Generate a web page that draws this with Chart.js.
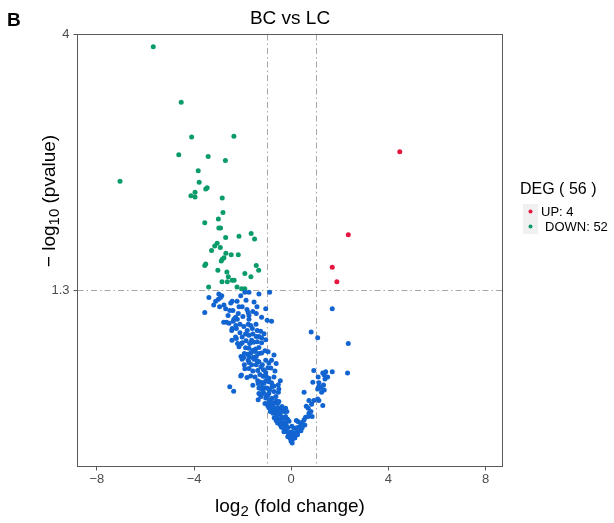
<!DOCTYPE html>
<html>
<head>
<meta charset="utf-8">
<script src="https://cdn.jsdelivr.net/npm/chart.js@4.4.1/dist/chart.umd.min.js"></script>
<style>
html,body{margin:0;padding:0;background:#ffffff;}
#wrap{width:614px;height:523px;position:relative;}
</style>
</head>
<body>
<div id="wrap"><canvas id="c" width="614" height="523"></canvas></div>
<script>
// ---------- data: [log2(fold change), -log10(pvalue)] ----------
const chartTitle = 'BC vs LC';
const panelLetter = 'B';
const legendTitle = 'DEG ( 56 )';
const legendLabels = ['UP: 4', 'DOWN: 52'];
const xTickValues = [-8, -4, 0, 4, 8];
const yTickValues = [1.3, 4];
const foldCutoffs = [-1, 1];
const pCutoff = 1.3;

const upPoints = [
  [4.47, 2.39], [2.35, 1.66], [1.69, 1.44], [1.88, 1.35]
];

const downPoints = [
  [-7.05, 2.10], [-5.68, 3.79], [-4.53, 2.97], [-4.10, 2.55], [-2.36, 2.56],
  [-4.63, 2.36], [-3.42, 2.34], [-2.71, 2.30], [-3.83, 2.20], [-3.79, 2.09],
  [-3.52, 2.03], [-3.46, 2.04], [-4.13, 1.97], [-3.96, 2.00], [-3.96, 1.96],
  [-2.84, 1.95], [-2.81, 1.83], [-3.00, 1.78], [-3.56, 1.75], [-2.98, 1.71],
  [-2.91, 1.71], [-2.70, 1.64], [-2.15, 1.65], [-1.65, 1.67], [-1.51, 1.63],
  [-3.05, 1.60], [-3.15, 1.58], [-2.92, 1.57], [-3.28, 1.55], [-2.69, 1.53],
  [-2.47, 1.52], [-2.18, 1.52], [-2.77, 1.50], [-2.84, 1.49], [-2.88, 1.48],
  [-3.52, 1.46], [-3.56, 1.45], [-1.44, 1.45], [-1.34, 1.42], [-3.02, 1.42],
  [-2.65, 1.41], [-1.91, 1.40], [-1.66, 1.38], [-2.59, 1.38], [-2.35, 1.36],
  [-2.43, 1.36], [-2.85, 1.35], [-2.63, 1.35], [-3.40, 1.32], [-2.04, 1.31],
  [-1.91, 1.31], [-2.23, 1.32]
];

const nsLeftUpper = [
  [-0.89, 1.29], [-3.39, 1.26], [-2.98, 1.28], [-2.86, 1.27], [-2.08, 1.27],
  [-1.91, 1.29], [-1.74, 1.29], [-1.33, 1.28], [-3.00, 1.25], [-2.91, 1.26],
  [-3.11, 1.24], [-3.19, 1.22], [-2.43, 1.24], [-2.49, 1.23], [-2.77, 1.22],
  [-2.95, 1.21], [-2.15, 1.21], [-2.02, 1.21], [-1.41, 1.21], [-2.70, 1.20],
  [-2.53, 1.19], [-1.05, 1.20], [-3.56, 1.18], [-2.18, 1.175], [-1.77, 1.18],
  [-1.74, 1.165], [-1.44, 1.175], [-2.29, 1.155], [-2.22, 1.145], [-2.36, 1.145],
  [-1.22, 1.155], [-1.74, 1.145], [-2.78, 1.13], [-2.66, 1.13], [-2.56, 1.125],
  [-2.39, 1.135], [-0.99, 1.14], [-0.81, 1.135], [-2.11, 1.12], [-1.77, 1.12],
  [-1.67, 1.115], [-2.43, 1.10], [-2.45, 1.09], [-2.26, 1.10], [-1.81, 1.09],
  [-1.60, 1.10], [-1.40, 1.09], [-1.26, 1.087], [-1.88, 1.074], [-1.74, 1.068],
  [-1.58, 1.074], [-2.02, 1.06], [-2.29, 1.06], [-2.26, 1.053], [-1.44, 1.062],
  [-1.33, 1.062], [-1.22, 1.056], [-1.05, 1.047], [-1.63, 1.044], [-1.55, 1.035],
  [-1.71, 1.03], [-1.40, 1.038], [-2.21, 1.03], [-2.08, 1.027], [-2.02, 1.033],
  [-1.22, 1.033], [-1.88, 1.011], [-1.74, 1.008], [-1.47, 1.005], [-1.58, 0.999],
  [-0.95, 0.993], [-1.93, 0.985], [-1.79, 0.982], [-1.67, 0.988], [-1.33, 0.985],
  [-1.22, 0.988], [-0.71, 0.979], [-2.07, 0.973], [-1.96, 0.968], [-1.74, 0.971],
  [-1.58, 0.968], [-1.44, 0.973]
];

const nsLeftBand = [
  [-2.23, 1.24], [-1.86, 1.245], [-1.53, 1.235], [-2.40, 1.19], [-1.82, 1.195],
  [-1.58, 1.185], [-1.99, 1.16], [-2.60, 1.165], [-2.28, 1.115], [-1.95, 1.11],
  [-1.45, 1.12], [-2.11, 1.079], [-1.12, 1.075], [-1.86, 1.042], [-2.44, 1.045],
  [-2.15, 1.015], [-1.33, 1.012], [-1.49, 0.994], [-1.08, 0.997], [-1.74, 0.947],
  [-1.33, 0.950], [-0.92, 0.945], [-1.91, 0.922], [-0.84, 0.925], [-1.82, 0.887],
  [-0.92, 0.884], [-0.71, 0.889], [-1.58, 0.857], [-0.71, 0.854]
];

const nsLeftLower = [
  [-2.02, 0.961], [-1.77, 0.957], [-1.53, 0.961], [-1.40, 0.954], [-1.05, 0.957],
  [-0.81, 0.957], [-0.62, 0.943], [-0.67, 0.913], [-1.63, 0.938], [-1.44, 0.938],
  [-1.19, 0.938], [-1.74, 0.923], [-1.58, 0.913], [-1.38, 0.915], [-1.14, 0.918],
  [-1.05, 0.907], [-2.08, 0.893], [-1.67, 0.893], [-1.49, 0.889], [-1.29, 0.899],
  [-1.16, 0.892], [-1.38, 0.874], [-1.36, 0.864], [-1.19, 0.867], [-1.05, 0.874],
  [-0.81, 0.867], [-0.45, 0.874], [-0.53, 0.859], [-2.53, 0.852], [-2.37, 0.835],
  [-1.33, 0.847], [-1.22, 0.843], [-1.05, 0.847], [-0.89, 0.84], [-0.51, 0.843],
  [-0.53, 0.831], [-1.33, 0.827], [-1.12, 0.827], [-0.97, 0.82], [-1.25, 0.816],
  [-1.05, 0.811], [-0.85, 0.804], [-1.36, 0.804], [-0.62, 0.80], [-0.75, 0.793],
  [-0.56, 0.791], [-1.08, 0.791], [-0.97, 0.784], [-0.85, 0.791], [-0.92, 0.777],
  [-0.84, 0.771], [-0.70, 0.777], [-0.62, 0.769], [-0.45, 0.773], [-0.37, 0.769],
  [-0.29, 0.764], [-0.23, 0.775], [-0.86, 0.764], [-0.75, 0.758], [-0.62, 0.758],
  [-0.45, 0.756], [-0.70, 0.743], [-0.62, 0.734], [-0.53, 0.741], [-0.42, 0.737],
  [-0.31, 0.743], [-0.23, 0.747], [-0.15, 0.738], [-0.56, 0.726], [-0.45, 0.72],
  [-0.34, 0.726], [-0.40, 0.713], [-0.29, 0.709], [-0.21, 0.72], [-0.21, 0.70],
  [-0.09, 0.696], [-0.12, 0.687], [-0.01, 0.685], [-0.04, 0.679], [-0.18, 0.709],
  [-0.01, 0.698], [-0.01, 0.671], [-1.93, 0.938], [-0.96, 0.926], [-1.25, 0.929],
  [-2.05, 0.897], [-1.03, 0.892]
];

const nsLeftArmDense = [
  [-1.29, 0.870], [-1.12, 0.865], [-0.92, 0.871], [-1.21, 0.851], [-0.98, 0.846],
  [-0.79, 0.852], [-1.16, 0.832], [-0.92, 0.828], [-0.71, 0.834], [-1.00, 0.815],
  [-0.79, 0.810], [-0.63, 0.816], [-0.92, 0.797], [-0.67, 0.793], [-0.51, 0.798],
  [-0.79, 0.780], [-0.55, 0.776], [-0.38, 0.781], [-0.71, 0.763], [-0.50, 0.760],
  [-0.18, 0.764], [-0.59, 0.747], [-0.38, 0.744], [-0.47, 0.731], [-0.26, 0.728],
  [-0.09, 0.732], [-0.34, 0.715], [-0.14, 0.712], [0.03, 0.716], [-0.30, 0.699],
  [0.07, 0.695], [-0.14, 0.684], [0.15, 0.680]
];

const nsRightArm = [
  [0.82, 1.083], [1.09, 1.056], [1.69, 1.20], [2.35, 1.03], [0.93, 0.915],
  [1.30, 0.905], [1.42, 0.91], [1.69, 0.91], [2.32, 0.905], [1.11, 0.889],
  [1.39, 0.881], [0.89, 0.869], [1.14, 0.867], [1.22, 0.849], [1.25, 0.831],
  [1.36, 0.84], [0.53, 0.831], [1.09, 0.807], [1.14, 0.802], [0.93, 0.802],
  [0.73, 0.802], [1.30, 0.784], [0.62, 0.782], [0.70, 0.775], [0.84, 0.789],
  [0.81, 0.764], [0.73, 0.758], [0.86, 0.747], [0.59, 0.745], [0.53, 0.737],
  [0.21, 0.734], [0.29, 0.73], [0.40, 0.72], [0.32, 0.713], [0.45, 0.728],
  [0.12, 0.71], [0.23, 0.711], [0.15, 0.696], [0.26, 0.698], [0.10, 0.682],
  [0.04, 0.675], [1.50, 0.889], [1.14, 0.853], [1.09, 0.843], [1.33, 0.858],
  [0.70, 0.747], [0.56, 0.72], [0.45, 0.711], [0.40, 0.702], [0.26, 0.69],
  [0.12, 0.683], [0.04, 0.665], [1.36, 0.897]
];

// ---------- styling ----------
const RED = '#E5173F';
const GREEN = '#0A9B6B';
const BLUE = '#1264D0';
const FONT = '"Liberation Sans", "Helvetica Neue", Arial, sans-serif';
const TICK_COLOR = '#4D4D4D';
const FRAME_COLOR = '#5a5a5a';

const toXY = arr => arr.map(p => ({x: p[0], y: p[1]}));
const nsAll = [].concat(nsLeftUpper, nsLeftBand, nsLeftLower, nsLeftArmDense, nsRightArm);

function pointDataset(label, pts, color) {
  return {
    label: label,
    data: toXY(pts),
    backgroundColor: color,
    pointBackgroundColor: color,
    pointBorderWidth: 0,
    borderWidth: 0,
    pointRadius: 2.5,
    pointHoverRadius: 2.5,
    showLine: false
  };
}

function drawRich(ctx, parts, x, y, size, subSize, subDy, align) {
  let total = 0;
  const widths = parts.map(([t, s]) => {
    ctx.font = (s ? subSize : size) + 'px ' + FONT;
    const w = ctx.measureText(t).width;
    total += w;
    return w;
  });
  let cx = align === 'center' ? x - total / 2 : x;
  ctx.textAlign = 'left';
  ctx.textBaseline = 'alphabetic';
  parts.forEach(([t, s], i) => {
    ctx.font = (s ? subSize : size) + 'px ' + FONT;
    ctx.fillText(t, cx, y + (s ? subDy : 0));
    cx += widths[i];
  });
}

const decor = {
  id: 'decor',
  beforeDatasetsDraw(chart) {
    const {ctx, chartArea: a, scales: {x, y}} = chart;
    ctx.save();
    ctx.strokeStyle = '#a6a6a6';
    ctx.lineWidth = 1;
    ctx.setLineDash([6, 3, 1.5, 3]);
    foldCutoffs.forEach(v => {
      const px = Math.round(x.getPixelForValue(v)) + 0.5;
      ctx.beginPath(); ctx.moveTo(px, a.top); ctx.lineTo(px, a.bottom); ctx.stroke();
    });
    const py = Math.round(y.getPixelForValue(pCutoff)) + 0.5;
    ctx.beginPath(); ctx.moveTo(a.left, py); ctx.lineTo(a.right, py); ctx.stroke();
    ctx.restore();
  },
  afterDraw(chart) {
    const {ctx, chartArea: a} = chart;
    ctx.save();
    // panel frame
    ctx.strokeStyle = FRAME_COLOR;
    ctx.lineWidth = 1;
    ctx.strokeRect(a.left, a.top, a.right - a.left, a.bottom - a.top);
    ctx.fillStyle = '#000';
    // panel letter
    ctx.font = 'bold 19px ' + FONT;
    ctx.textAlign = 'left';
    ctx.textBaseline = 'alphabetic';
    ctx.fillText(panelLetter, 7, 26);
    // title
    ctx.font = '19px ' + FONT;
    ctx.textAlign = 'center';
    ctx.fillText(chartTitle, (a.left + a.right) / 2, 24);
    // x axis title
    drawRich(ctx, [['log', 0], ['2', 1], [' (fold change)', 0]], (a.left + a.right) / 2, 512, 19, 15, 4, 'center');
    // y axis title
    ctx.save();
    ctx.translate(55, 201);
    ctx.rotate(-Math.PI / 2);
    drawRich(ctx, [['\u2212 log', 0], ['10', 1], [' (pvalue)', 0]], 0, 0, 19, 15, 4, 'center');
    ctx.restore();
    // legend
    ctx.font = '16px ' + FONT;
    ctx.textAlign = 'left';
    ctx.fillText(legendTitle, 520, 194);
    const keyColors = [RED, GREEN];
    const keyTop = [204, 219];
    const textX = [541, 545];
    keyColors.forEach((c, i) => {
      ctx.fillStyle = '#f0f0f0';
      ctx.fillRect(523, keyTop[i], 15, 15);
      ctx.fillStyle = c;
      ctx.beginPath();
      ctx.arc(530.5, keyTop[i] + 7.5, 2, 0, Math.PI * 2);
      ctx.fill();
      ctx.fillStyle = '#000';
      ctx.font = '13px ' + FONT;
      ctx.textBaseline = 'middle';
      ctx.fillText(legendLabels[i], textX[i], keyTop[i] + 8);
    });
    ctx.restore();
  }
};

const fmtMinus = v => (v < 0 ? '\u2212' + Math.abs(v) : String(v));

new Chart(document.getElementById('c'), {
  type: 'scatter',
  data: {
    datasets: [
      pointDataset('NS', nsAll, BLUE),
      pointDataset(legendLabels[1], downPoints, GREEN),
      pointDataset(legendLabels[0], upPoints, RED)
    ]
  },
  options: {
    responsive: false,
    animation: false,
    devicePixelRatio: 1,
    layout: {padding: {left: 0, top: 34.5, right: 111.5, bottom: 26.5}},
    plugins: {legend: {display: false}, title: {display: false}, tooltip: {enabled: false}},
    events: [],
    scales: {
      x: {
        type: 'linear',
        min: -8.8,
        max: 8.7,
        afterBuildTicks: s => { s.ticks = xTickValues.map(v => ({value: v})); },
        afterFit: s => { s.height = 30; },
        ticks: {
          callback: v => fmtMinus(v),
          color: TICK_COLOR,
          font: {family: FONT, size: 13},
          padding: 1,
          maxRotation: 0,
          autoSkip: false
        },
        grid: {display: true, drawOnChartArea: false, drawTicks: true, tickLength: 4, color: FRAME_COLOR, lineWidth: 1},
        border: {display: true, color: FRAME_COLOR, width: 1}
      },
      y: {
        type: 'logarithmic',
        min: 0.608,
        max: 4,
        afterBuildTicks: s => { s.ticks = yTickValues.map(v => ({value: v})); },
        afterFit: s => { s.width = 77.5; },
        ticks: {
          callback: v => String(v),
          color: TICK_COLOR,
          font: {family: FONT, size: 13},
          padding: 4,
          autoSkip: false
        },
        grid: {display: true, drawOnChartArea: false, drawTicks: true, tickLength: 4, color: FRAME_COLOR, lineWidth: 1},
        border: {display: true, color: FRAME_COLOR, width: 1}
      }
    }
  },
  plugins: [decor]
});
</script>
</body>
</html>
